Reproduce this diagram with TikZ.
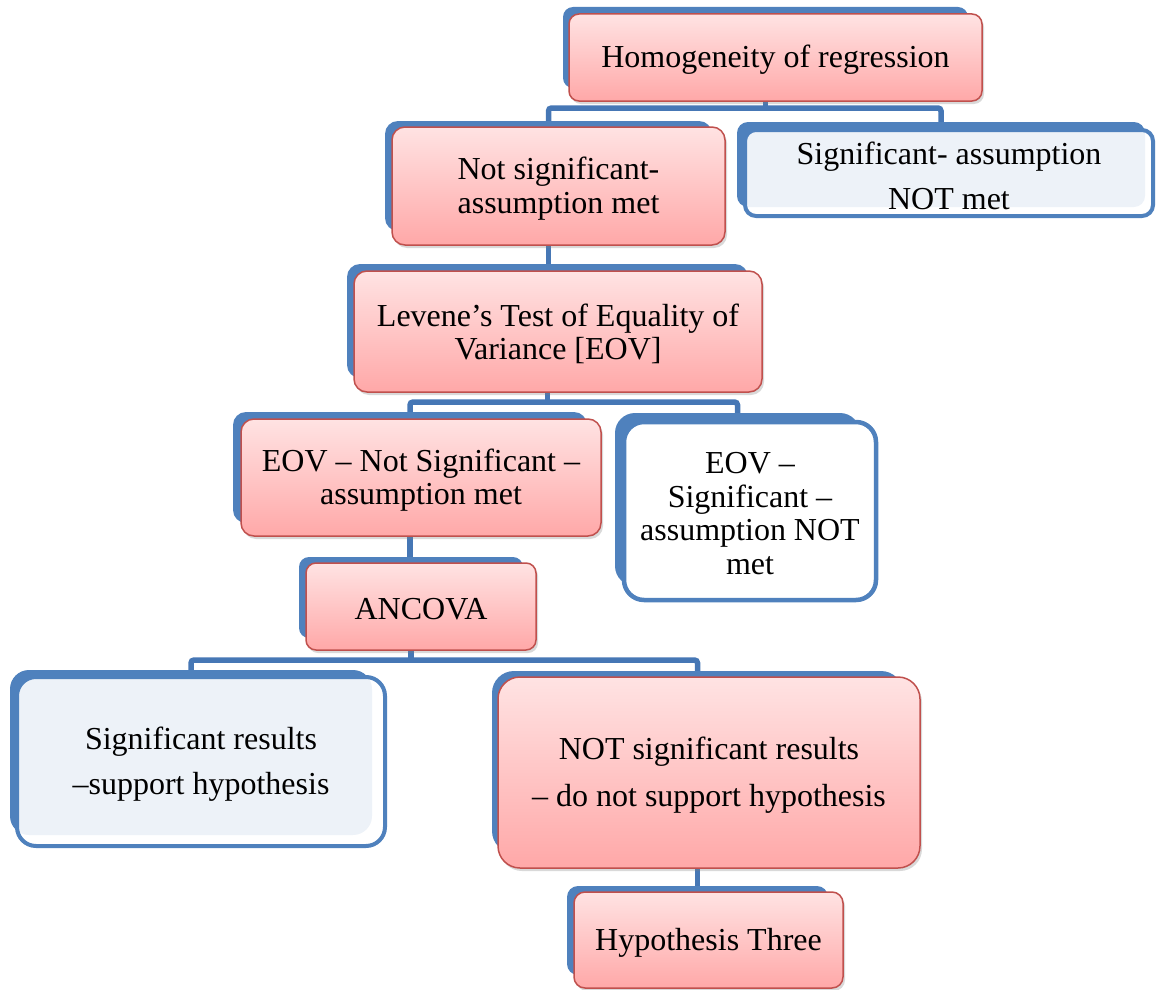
\documentclass[tikz,border=0pt]{standalone}
\usepackage{fontspec}
\setmainfont{Liberation Serif}
\usetikzlibrary{shadows}
\definecolor{bluS}{HTML}{4F81BD}
\definecolor{connC}{HTML}{4677B5}
\definecolor{redB}{HTML}{C0504D}
\definecolor{pinkT}{HTML}{FFE3E3}
\definecolor{pinkB}{HTML}{FFA8A8}
\pgfdeclarelayer{bg}
\pgfsetlayers{bg,main}
\tikzset{
  txt/.style={align=center, font=\fontsize{32}{33.5}\selectfont, text=black, inner sep=2pt},
  shadowbox/.style={fill=bluS, draw=none, inner sep=0pt, outer sep=0pt},
  pinkbox/.style={draw=redB, line width=1.5pt, top color=pinkT, bottom color=pinkB,
     drop shadow={shadow xshift=2pt, shadow yshift=-3pt, opacity=0.3}},
  bluebox/.style={draw=bluS, line width=4pt, fill=white, fill opacity=0.9},
  whitebox/.style={draw=bluS, line width=4.5pt, fill=white},
  conn/.style={draw=connC, line width=5.5pt, rounded corners=3pt}
}
% #1 name, #2-#5 x1 y1 x2 y2, #6 radius
\newcommand\shadowat[6]{%
  \node[shadowbox, rounded corners=#6pt, minimum width={#4-#2}, minimum height={#5-#3}]
    (#1) at ({(#2+#4)/2},{(#3+#5)/2}) {};}
% #1 name, #2 style, #3-#6 x1 y1 x2 y2, #7 radius, #8 text
\newcommand\frontat[8]{%
  \node[#2, inner sep=0pt, rounded corners=#7pt, minimum width={#5-#3}, minimum height={#6-#4}]
    (#1) at ({(#3+#5)/2},{(#4+#6)/2}) {};
  \node[txt] (#1t) at ([yshift=-2.5pt]#1.center) {#8};}
\begin{document}
\begin{tikzpicture}[x=1pt,y=-1pt]
\useasboundingbox (0,0) rectangle (1157,990);
% shadows (back shapes)
\shadowat{homS}{563}{7}{968}{88}{10}
\shadowat{nsgS}{385}{121}{712}{231}{13}
\shadowat{sgnS}{737}{122}{1145}{207}{11}
\shadowat{levS}{347}{264}{748}{378}{13}
\shadowat{eonS}{233}{412}{587}{523}{13}
\shadowat{eosS}{615}{413}{860}{586}{20}
\shadowat{ancS}{299}{557}{523}{638}{10}
\shadowat{sgrS}{10}{670}{372}{835}{19}
\shadowat{nsrS}{492}{671}{903}{853}{22}
\shadowat{hypS}{567}{886}{828}{975}{11}
% front shapes
\frontat{hom}{pinkbox}{569}{14}{982}{101}{10}{Homogeneity of regression}
\frontat{nsg}{pinkbox}{392}{127}{725}{245}{13}{Not significant-\\assumption met}
\frontat{sgn}{bluebox}{745}{130}{1153}{216}{11}{Significant- assumption\\[11.5pt]NOT met}
\frontat{lev}{pinkbox}{354}{271}{762}{392}{13}{Levene’s Test of Equality of\\Variance [EOV]}
\frontat{eon}{pinkbox}{241}{419}{601}{536}{13}{EOV – Not Significant –\\assumption met}
\frontat{eos}{whitebox}{624}{422}{876}{600}{20}{EOV –\\Significant –\\assumption NOT\\met}
\frontat{anc}{pinkbox}{306}{563}{536}{650}{10}{ANCOVA}
\frontat{sgr}{bluebox}{17}{677}{385}{846}{19}{Significant results\\[11.5pt]–support hypothesis}
\frontat{nsr}{pinkbox}{498}{677}{920}{868}{22}{NOT significant results\\[13.5pt]– do not support hypothesis}
\frontat{hyp}{pinkbox}{574}{892}{843}{988}{11}{Hypothesis Three}
% bar levels
\coordinate (b1) at (765,108);
\coordinate (b2) at (548,402);
\coordinate (b3) at (411,660);
\begin{pgfonlayer}{bg}
\draw[conn] (homS.south) -- (homS.south |- b1);
\draw[conn] (nsgS.north) -- (nsgS.north |- b1) -- (sgnS.north |- b1) -- (sgnS.north);
\draw[conn] (nsgS.south) -- (nsgS.south |- levS.north);
\draw[conn] (levS.south) -- (levS.south |- b2);
\draw[conn] (eonS.north) -- (eonS.north |- b2) -- (eosS.north |- b2) -- (eosS.north);
\draw[conn] (eonS.south) -- (eonS.south |- ancS.north);
\draw[conn] (ancS.south) -- (ancS.south |- b3);
\draw[conn] (sgrS.north) -- (sgrS.north |- b3) -- (nsrS.north |- b3) -- (nsrS.north);
\draw[conn] (nsrS.south) -- (nsrS.south |- hypS.north);
\end{pgfonlayer}
\end{tikzpicture}
\end{document}
